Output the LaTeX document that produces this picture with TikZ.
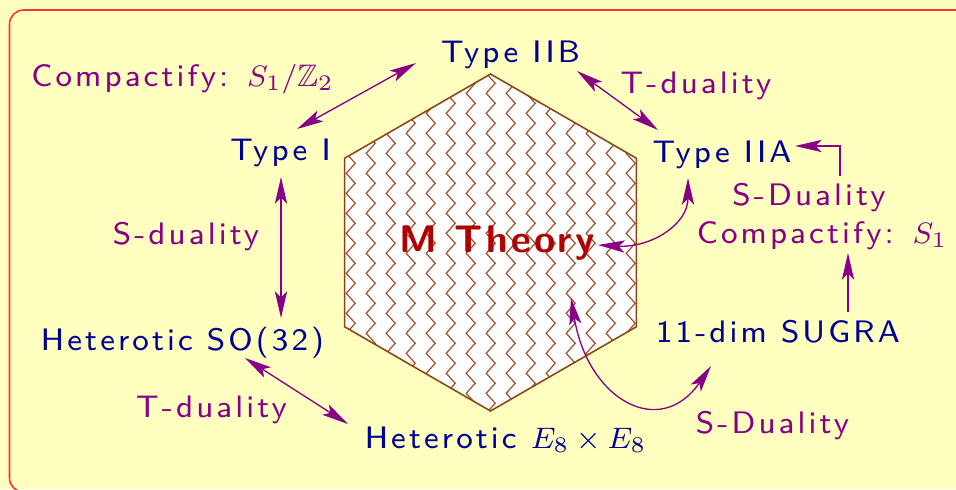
\documentclass[tikz,border=0pt]{standalone}
\usepackage{amssymb}
\usepackage{fontspec}
\newfontfamily\lsans{lmsans8-regular.otf}[LetterSpace=10]
\newfontfamily\lsansbold{lmsans10-bold.otf}[LetterSpace=9]
\usetikzlibrary{arrows.meta}
\definecolor{bgyellow}{HTML}{FFFFC0}
\definecolor{framered}{HTML}{FF3030}
\definecolor{navyt}{HTML}{000095}
\definecolor{purplet}{HTML}{880088}
\definecolor{mred}{HTML}{B00000}
\definecolor{hexbrown}{HTML}{8B4513}
\definecolor{zigbrown}{HTML}{A0522D}
\begin{document}
\begin{tikzpicture}[x=0.27pt,y=-0.27pt,
  theory/.style={text=navyt,inner sep=0pt,anchor=base,font=\fontsize{8.4}{10}\lsans},
  lbl/.style={text=purplet,inner sep=0pt,anchor=base,font=\fontsize{8.4}{10}\lsans},
  conn/.style={draw=purplet,line width=0.36pt},
  tip/.style={-{Stealth[length=7.2pt,width=3.3pt,inset=1.6pt]}},
  both/.style={{Stealth[length=7.2pt,width=3.3pt,inset=1.6pt]}-{Stealth[length=7.2pt,width=3.3pt,inset=1.6pt]}},
  zz/.style={draw=zigbrown,line width=0.33pt,line join=miter}]
\useasboundingbox (0,0) rectangle (956,489);
\fill[bgyellow] (0,0) rectangle (956,489);
\begin{scope}
\clip (0,0) rectangle (956,489);
\draw[framered,line width=0.42pt,rounded corners=3.8pt] (9.5,10) rectangle (990,492);
\end{scope}
% hexagon
\coordinate (h1) at (490.5,74);
\coordinate (h2) at (636.4,158.25);
\coordinate (h3) at (636.4,326.75);
\coordinate (h4) at (490.5,411);
\coordinate (h5) at (344.6,326.75);
\coordinate (h6) at (344.6,158.25);
\fill[white] (h1)--(h2)--(h3)--(h4)--(h5)--(h6)--cycle;
\begin{scope}
\clip (h1)--(h2)--(h3)--(h4)--(h5)--(h6)--cycle;
\foreach \i in {-1,...,15} {
  \draw[zz] ({346.2+20*\i},53.3) \foreach \j in {0,...,19} { -- ++(9,10) -- ++(-9,10) };
}
\end{scope}
\draw[hexbrown,line width=0.42pt,line join=miter] (h1)--(h2)--(h3)--(h4)--(h5)--(h6)--cycle;
% texts
\node[theory] (t2b) at (510.5,62) {Type IIB};
\node[theory] (t1) at (280.5,160) {Type I};
\node[theory] (t2a) at (722,162) {Type IIA};
\node[theory] (so32) at (182.5,350) {Heterotic SO(32)};
\node[theory] (e8) at (505.5,448) {Heterotic $E_8\times E_8$};
\node[theory] (sugra) at (778,342) {11-dim SUGRA};
\node[text=mred,inner sep=0pt,anchor=base,font=\fontsize{10.4}{12}\lsansbold] (mt) at (497,252) {M Theory};
\node[lbl] (lc1) at (182.5,86) {Compactify: $S_1/\mathbb{Z}_2$};
\node[lbl] (ltd1) at (696,93) {T-duality};
\node[lbl] (lsd1) at (186,244) {S-duality};
\node[lbl] (lsd2) at (809,205) {S-Duality};
\node[lbl] (lc2) at (822,243) {Compactify: $S_1$};
\node[lbl] (ltd2) at (211.5,417) {T-duality};
\node[lbl] (lsd3) at (772.5,433) {S-Duality};
% connector ends
\coordinate (a1s) at (297,129); \coordinate (a1e) at (416,63);
\coordinate (a2s) at (577,71); \coordinate (a2e) at (658,130);
\coordinate (a3s) at (281,177); \coordinate (a3e) at (281,318);
\coordinate (a4s) at (245,358); \coordinate (a4e) at (348,424);
\coordinate (a5s) at (840,176); \coordinate (a5e) at (795,146);
\coordinate (a6s) at (848,312); \coordinate (a6e) at (848,253);
\coordinate (a7s) at (598,245); \coordinate (a7e) at (688,178);
\coordinate (a8s) at (571,298); \coordinate (a8e) at (711,366);
\draw[conn,both] (a1s) -- (a1e);
\draw[conn,both] (a2s) -- (a2e);
\draw[conn,both] (a3s) -- (a3e);
\draw[conn,both] (a4s) -- (a4e);
\draw[conn,tip] (a5s) |- (a5e);
\draw[conn,tip] (a6s) -- (a6e);
\draw[conn,both] (a7s) .. controls (650,248) and (688,225) .. (a7e);
\draw[conn,both] (a8s) .. controls (588,400) and (660,440) .. (a8e);
\end{tikzpicture}
\end{document}
